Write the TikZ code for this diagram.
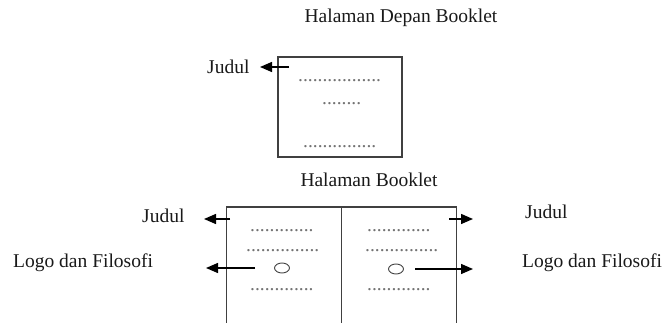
\documentclass[tikz,border=0pt]{standalone}
\usepackage{fontspec}
\setmainfont{Liberation Serif}
\usetikzlibrary{arrows.meta,shapes.geometric}
\begin{document}
\begin{tikzpicture}[x=1pt,y=-1pt,
  lbl/.style={inner sep=0pt,font=\fontsize{19.5}{22}\selectfont,text=black!90},
  dots/.style={inner sep=0pt,anchor=base west,font=\fontsize{19.5}{22}\selectfont,text=black!55},
  frame/.style={draw=black!75,line width=1.2pt},
  arr/.style={draw=black,line width=1.4pt,-{Triangle[length=12pt,width=10pt]}},
  eye/.style={draw=black!75,line width=0.9pt,ellipse,minimum width=15pt,minimum height=10pt,inner sep=0pt}]
\useasboundingbox (0,0) rectangle (667,323);
\node[lbl] (t1) at (401,18) {Halaman Depan Booklet};
\node[frame,minimum width=124pt,minimum height=100pt,inner sep=0pt] (front) at (340,107) {};
\node[dots] (f1) at (298,81.5) {.................};
\node[dots] (f2) at (322,104.5) {........};
\node[dots] (f3) at (303,147.5) {...............};
\node[lbl,anchor=west] (jt) at (207,67) {Judul};
\coordinate (jtA) at (289,67);
\coordinate (jtT) at (260,67);
\draw[arr] (jtA) -- (jtT);

\node[lbl] (t2) at (369,180) {Halaman Booklet};
\coordinate (bl) at (226.5,323);
\coordinate (tl) at (226.5,207);
\coordinate (tm) at (341.5,207);
\coordinate (bm) at (341.5,323);
\coordinate (tr) at (456.5,207);
\coordinate (br) at (456.5,323);
\draw[frame] (bl) -- (tl) -- (tr) -- (br);
\draw[frame] (tm) -- (bm);
\node[dots] (l1) at (250,231.5) {.............};
\node[dots] (l2) at (246,251.5) {...............};
\node[dots] (l3) at (250,290.5) {.............};
\node[dots] (r1) at (367,231.5) {.............};
\node[dots] (r2) at (365,251.5) {...............};
\node[dots] (r3) at (367,290.5) {.............};
\node[eye] (el) at (282,268) {};
\node[eye] (er) at (396,269) {};
\node[lbl,anchor=west] (jl) at (142,216) {Judul};
\node[lbl,anchor=west] (ll) at (13,263) {Logo dan Filosofi};
\node[lbl,anchor=west] (jr) at (525,212) {Judul};
\node[lbl,anchor=west] (lr) at (522,263) {Logo dan Filosofi};
\coordinate (jlA) at (230,219);
\coordinate (jlT) at (204,219);
\coordinate (llA) at (255,268);
\coordinate (llT) at (206,268);
\coordinate (jrA) at (449,219);
\coordinate (jrT) at (473,219);
\coordinate (lrA) at (415,269);
\coordinate (lrT) at (473,269);
\draw[arr] (jlA) -- (jlT);
\draw[arr] (llA) -- (llT);
\draw[arr] (jrA) -- (jrT);
\draw[arr] (lrA) -- (lrT);
\end{tikzpicture}
\end{document}
